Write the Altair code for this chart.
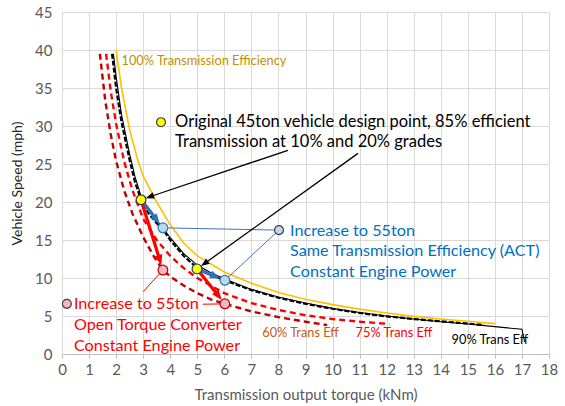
import math
import altair as alt
import pandas as pd

FONT = "Lato"
GREY = "#595959"

# ---------------- data ----------------
t100 = [2.0, 2.2, 2.5, 2.8, 3.0, 3.5, 4.0, 4.5, 5.0, 6.0, 7.0, 8.0, 9.0, 10.0, 11.0, 12.0, 13.0, 14.0, 15.0, 16.0]
v100 = [40.0, 35.0, 29.5, 25.5, 23.4, 20.0, 17.0, 14.6, 12.9, 10.8, 9.3, 8.1, 7.2, 6.5, 5.9, 5.4, 4.95, 4.6, 4.3, 4.0]

t90 = [1.9, 2.0, 2.2, 2.5, 2.7, 2.92, 3.2, 3.5, 3.73, 4.0, 4.5, 5.0, 5.5, 6.0, 7.0, 8.0, 9.0, 10.0, 11.0, 12.0, 13.0, 14.0, 15.0, 16.0, 17.0, 17.1]
v90 = [39.5, 36.5, 31.5, 26.3, 23.3, 20.8, 19.0, 17.6, 16.6, 15.3, 13.2, 11.7, 10.7, 9.9, 8.5, 7.5, 6.7, 6.0, 5.45, 5.0, 4.6, 4.25, 3.95, 3.6, 3.25, 1.6]

t85 = [1.85, 2.0, 2.2, 2.5, 2.7, 2.92, 3.2, 3.5, 3.73, 4.0, 4.5, 5.0, 5.5, 6.0, 7.0, 8.0, 9.0, 10.0, 11.0, 12.0, 13.0, 14.0, 15.0, 15.6]
v85 = [39.5, 35.0, 30.5, 25.5, 22.6, 20.3, 18.5, 17.2, 16.4, 15.0, 12.9, 11.3, 10.4, 9.7, 8.4, 7.4, 6.6, 5.95, 5.4, 4.95, 4.6, 4.3, 4.0, 3.8]

t75 = [1.63, 1.8, 2.0, 2.3, 2.6, 3.0, 3.5, 4.0, 4.5, 5.0, 6.0, 7.0, 8.0, 9.0, 10.0, 11.0, 12.1]
v75 = [39.5, 34.6, 30.3, 25.3, 21.6, 17.8, 15.0, 12.9, 11.3, 10.0, 8.0, 6.7, 5.8, 5.1, 4.6, 4.25, 3.95]

t60 = [1.4, 1.6, 1.8, 2.0, 2.3, 2.6, 3.0, 3.4, 3.73, 4.0, 4.5, 5.0, 5.5, 6.02, 7.0, 8.0, 9.0, 9.8]
v60 = [39.5, 33.3, 28.9, 25.4, 21.5, 18.5, 15.4, 12.8, 11.05, 10.2, 9.0, 8.0, 7.2, 6.6, 5.6, 4.85, 4.25, 3.8]

design_t = [2.92, 4.99]
design_v = [20.3, 11.2]
act_t = [3.73, 6.02]
act_v = [16.6, 9.7]
otc_t = [3.73, 6.02]
otc_v = [11.05, 6.6]

legend_yellow = (3.66, 30.5)
legend_blue = (8.02, 16.3)
legend_red = (0.18, 6.6)

black_arrow_starts = [(8.35, 26.8), (10.94, 26.4)]
red_leader_starts = [(3.0, 8.2), (5.2, 6.55)]

txt_orig = ["Original 45ton vehicle design point, 85% efficient", "Transmission at 10% and 20% grades"]
txt_orig_x = 4.18
txt_orig_y = [30.5, 27.9]
txt_blue = ["Increase to 55ton", "Same Transmission Efficiency (ACT)", "Constant Engine Power"]
txt_blue_x = 8.43
txt_blue_y = [16.2, 13.5, 10.8]
txt_red = ["Increase to 55ton", "Open Torque Converter", "Constant Engine Power"]
txt_red_x = 0.44
txt_red_y = [6.6, 3.85, 1.1]

curve_labels = ["100% Transmission Efficiency", "60% Trans Eff", "75% Trans Eff", "90% Trans Eff"]
curve_label_x = [2.2, 7.4, 10.85, 14.4]
curve_label_y = [38.6, 2.8, 2.8, 1.9]
curve_label_color = ["#BF9000", "#C55A11", "#FF0000", "#000000"]

x_ticks = list(range(0, 19))
y_ticks = list(range(0, 46, 5))

# ---------------- layout ----------------
W, H = 487, 342
XMAX, YMAX = 18, 45
SX, SY = W / XMAX, H / YMAX

xs = alt.Scale(domain=[0, XMAX], nice=False, zero=False)
ys = alt.Scale(domain=[0, YMAX], nice=False, zero=False)

x_axis = alt.Axis(values=x_ticks, title="Transmission output torque (kNm)", grid=True,
                  gridColor="#D9D9D9", domainColor="#BFBFBF", tickColor="#BFBFBF", tickSize=4,
                  labelColor=GREY, labelFont=FONT, labelFontSize=15, labelPadding=4,
                  labelFlush=False, labelOverlap=False,
                  titleColor=GREY, titleFont=FONT, titleFontSize=15, titleFontWeight="normal",
                  titlePadding=10)
y_axis = alt.Axis(values=y_ticks, title="Vehicle Speed (mph)", grid=True,
                  gridColor="#D9D9D9", domain=False, ticks=False,
                  labelColor=GREY, labelFont=FONT, labelFontSize=15, labelPadding=10,
                  labelFlush=False, labelOverlap=False,
                  titleColor="#262626", titleFont=FONT, titleFontSize=14, titleFontWeight="normal",
                  titlePadding=10)


def X(f="t"):
    return alt.X(f"{f}:Q", scale=xs, axis=x_axis)


def Y(f="v"):
    return alt.Y(f"{f}:Q", scale=ys, axis=y_axis)


def curve(t, v, color, width, dash=None):
    df = pd.DataFrame({"t": t, "v": v, "o": list(range(len(t)))})
    kw = dict(color=color, strokeWidth=width, clip=True)
    if dash:
        kw["strokeDash"] = dash
    return alt.Chart(df).mark_line(**kw).encode(x=X(), y=Y(), order="o:Q")


def seg(p0, p1, color, width):
    df = pd.DataFrame({"t": [p0[0], p1[0]], "v": [p0[1], p1[1]], "o": [0, 1]})
    return alt.Chart(df).mark_line(color=color, strokeWidth=width).encode(x=X(), y=Y(), order="o:Q")


HEAD = "M0,0L-0.62,1.6L0.62,1.6Z"


def arrow(p0, p1, color, width, gap_px, head_size):
    dxp = (p1[0] - p0[0]) * SX
    dyp = (p1[1] - p0[1]) * SY
    L = math.hypot(dxp, dyp)
    ux, uy = dxp / L, dyp / L
    tip = (p1[0] - ux * gap_px / SX, p1[1] - uy * gap_px / SY)
    head_len = 1.6 * math.sqrt(head_size) / 2
    back = gap_px + head_len * 0.7
    shaft_end = (p1[0] - ux * back / SX, p1[1] - uy * back / SY)
    ang = math.degrees(math.atan2(dxp, dyp)) % 360
    line = seg(p0, shaft_end, color, width)
    hd = pd.DataFrame({"t": [tip[0]], "v": [tip[1]], "a": [ang]})
    head = alt.Chart(hd).mark_point(shape=HEAD, filled=True, color=color, opacity=1, size=head_size,
                                    strokeWidth=0).encode(x=X(), y=Y(), angle=alt.Angle("a:Q", scale=None))
    return [line, head]


def dots(ts, vs, fill, stroke, size=95):
    df = pd.DataFrame({"t": ts, "v": vs})
    return alt.Chart(df).mark_point(shape="circle", filled=True, fill=fill, stroke=stroke, strokeWidth=1.2,
                                    size=size, opacity=1).encode(x=X(), y=Y())


def texts(lines, x, ys_, color, size, font=FONT):
    df = pd.DataFrame({"t": [x] * len(lines), "v": ys_, "s": lines})
    return alt.Chart(df).mark_text(align="left", baseline="middle", color=color, font=font,
                                   fontSize=size).encode(x=X(), y=Y(), text="s:N")


layers = []
# curves
layers.append(curve(t60, v60, "#C00000", 2.4, [6, 4]))
layers.append(curve(t75, v75, "#FF0000", 2.4, [6, 4]))
layers.append(curve(t100, v100, "#FFC000", 1.6))
layers.append(curve(t90, v90, "#000000", 1.1))
layers.append(curve(t85, v85, "#000000", 2.2, [5, 2]))

# leader lines
for p in zip(act_t, act_v):
    layers.append(seg(legend_blue, p, "#4472C4", 1))
for s, p in zip(red_leader_starts, zip(otc_t, otc_v)):
    layers.append(seg(s, p, "#FF0000", 1))

# black arrows to design points
for s, p in zip(black_arrow_starts, zip(design_t, design_v)):
    layers += arrow(s, p, "#000000", 1.3, 5, 110)
# blue and red arrows
for d, a in zip(zip(design_t, design_v), zip(act_t, act_v)):
    layers += arrow(d, a, "#2E75B6", 3.5, 5, 170)
for d, a in zip(zip(design_t, design_v), zip(otc_t, otc_v)):
    layers += arrow(d, a, "#FF0000", 3.2, 5, 170)

# points
layers.append(dots(act_t, act_v, "#BDD7EE", "#2E75B6"))
layers.append(dots(otc_t, otc_v, "#F4B6C2", "#C00000"))
layers.append(dots(design_t, design_v, "#FFFF00", "#1F3864"))
layers.append(dots([legend_yellow[0]], [legend_yellow[1]], "#FFFF00", "#404040", 80))
layers.append(dots([legend_blue[0]], [legend_blue[1]], "#BDD7EE", "#404040", 80))
layers.append(dots([legend_red[0]], [legend_red[1]], "#F4B6C2", "#404040", 80))

# texts
layers.append(texts(txt_orig, txt_orig_x, txt_orig_y, "#000000", 16.5))
layers.append(texts(txt_blue, txt_blue_x, txt_blue_y, "#0070C0", 16.2))
layers.append(texts(txt_red, txt_red_x, txt_red_y, "#FF0000", 16.2))
for s, x, y, c in zip(curve_labels, curve_label_x, curve_label_y, curve_label_color):
    layers.append(texts([s], x, [y], c, 12.8))

chart = alt.layer(*layers).properties(
    width=W, height=H,
    autosize=alt.AutoSizeParams(type="none"),
    padding={"left": 62, "top": 12, "right": 16, "bottom": 52},
    background="white",
).configure_view(stroke=None)

chart.save("out.html", embed_options={"renderer": "svg", "actions": False})
